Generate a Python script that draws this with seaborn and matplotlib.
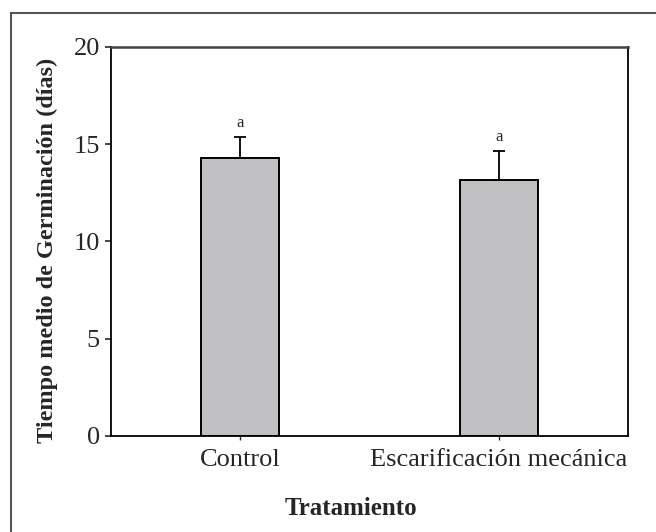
import matplotlib
matplotlib.use("Agg")
import matplotlib.pyplot as plt
import matplotlib.patches as patches
import pandas as pd
import seaborn as sns

# values
tratamientos = ["Control", "Escarificación mecánica"]
medias = [14.3, 13.15]
errores = [1.08, 1.52]
letras = ["a", "a"]

df = pd.DataFrame({"Tratamiento": tratamientos, "Tiempo": medias})

sns.set_style("white")
plt.rcParams["font.family"] = ["Liberation Serif", "DejaVu Serif"]

fig = plt.figure(figsize=(6.56, 5.32), dpi=100)
ax = fig.add_axes([111 / 656, 1 - 436 / 532, 517 / 656, 389 / 532])

sns.barplot(data=df, x="Tratamiento", y="Tiempo", order=tratamientos,
            color="#c0c0c2", saturation=1, edgecolor="black", linewidth=1.4,
            width=0.30, errorbar=None, ax=ax)

# only the upper half of the error bars
ax.errorbar(range(len(medias)), medias, yerr=[[0] * len(errores), errores],
            fmt="none", ecolor="black", elinewidth=1.3, capsize=4, capthick=1.3)

for i, (m, e, l) in enumerate(zip(medias, errores, letras)):
    ax.annotate(l, (i, m + e), xytext=(0, 4), textcoords="offset points",
                ha="center", va="bottom", fontsize=12)

ax.set_xlim(-0.5, 1.5)
ax.set_ylim(0, 20)
ax.set_yticks([0, 5, 10, 15, 20])

for side in ["left", "bottom", "right"]:
    ax.spines[side].set_color("black")
    ax.spines[side].set_linewidth(1.3)
ax.spines["top"].set_color("#444444")
ax.spines["top"].set_linewidth(1.8)

ax.tick_params(axis="y", direction="out", length=4, width=1.2, pad=4,
               labelsize=19, left=True)
ax.tick_params(axis="x", direction="out", length=3, width=1.0, pad=6,
               labelsize=19, bottom=True)

ax.set_ylabel("Tiempo medio de Germinación (días)", fontsize=17.5, fontweight="bold")
ax.set_xlabel("Tratamiento", fontsize=18, fontweight="bold")
ax.yaxis.set_label_coords((58 - 111) / 517, (436 - 250) / 389)
ax.xaxis.set_label_coords((351 - 111) / 517, (436 - 497) / 389)

# outer frame of the figure
frame = patches.Rectangle((11 / 656, -0.1), 1.2, (1 - 13 / 532) + 0.1,
                          transform=fig.transFigure, fill=False,
                          edgecolor="#555555", linewidth=1.5, clip_on=False)
fig.patches.append(frame)

fig.savefig("out.png", dpi=100)
